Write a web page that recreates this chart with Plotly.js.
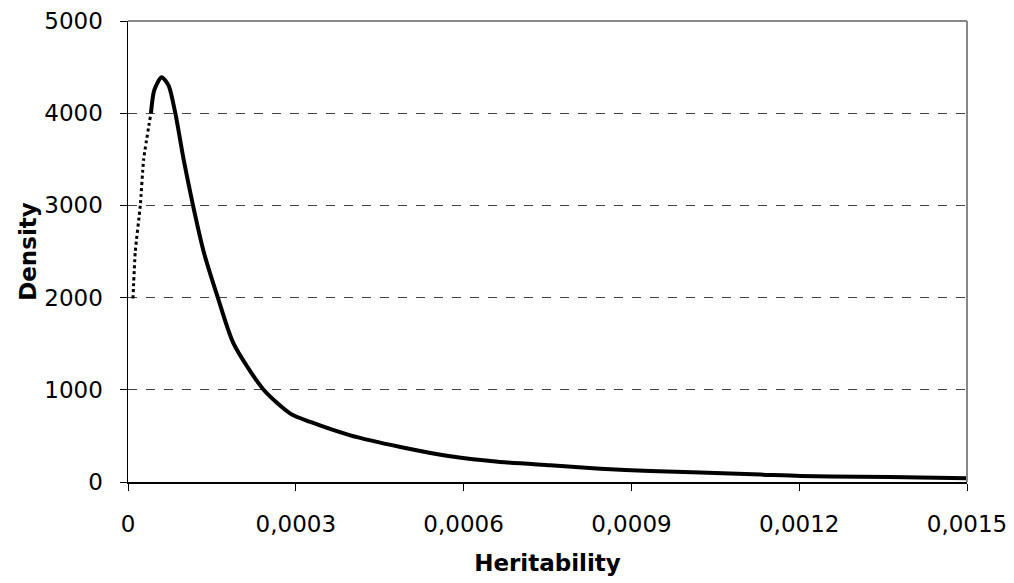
<!DOCTYPE html>
<html><head><meta charset="utf-8">
<script src="https://cdn.plot.ly/plotly-3.0.1.min.js"></script>
<style>html,body{margin:0;padding:0;background:#fff}#chart{width:1014px;height:583px}</style>
</head><body><div id="chart"></div>
<script>
// Rising part (drawn dotted in the reference)
const riseX = [0.0000089, 0.000013, 0.000022, 0.000028, 0.000041];
const riseY = [1990, 2500, 3000, 3500, 4000];
// Peak and falling part (solid)
const fallX = [0.000041, 0.000047, 0.00006, 0.0000726, 0.0000846, 0.0000994, 0.0001162, 0.0001352, 0.0001606, 0.0001888, 0.0002425, 0.0002902, 0.0003261, 0.0003975, 0.000487, 0.0005763, 0.0006657, 0.000755, 0.0008444, 0.0009338, 0.0010233, 0.001131, 0.0012022, 0.001309, 0.0014165, 0.0015];
const fallY = [4000, 4250, 4390, 4300, 4000, 3500, 3000, 2500, 2000, 1500, 1000, 742, 651, 506, 380, 279, 217, 181, 145, 119, 102, 80, 65, 58, 50, 40];
const xTickVals = [0, 0.0003, 0.0006, 0.0009, 0.0012, 0.0015];
const xTickText = ['0', '0,0003', '0,0006', '0,0009', '0,0012', '0,0015'];
const yTickVals = [0, 1000, 2000, 3000, 4000, 5000];

const tickFont = {family: 'DejaVu Sans, sans-serif', size: 23, color: '#000'};
const titleFont = {family: 'DejaVu Sans, sans-serif', size: 23, color: '#000'};
const data = [
  {x: riseX, y: riseY, mode: 'lines', line: {color: '#000', width: 3, dash: 'dot', shape: 'spline', smoothing: 0.5}, hoverinfo: 'x+y'},
  {x: fallX, y: fallY, mode: 'lines', line: {color: '#000', width: 4, shape: 'spline', smoothing: 0.7}, hoverinfo: 'x+y'}
];
const layout = {
  width: 1014, height: 583,
  margin: {l: 128, r: 47, t: 21, b: 101},
  paper_bgcolor: '#fff', plot_bgcolor: '#fff',
  showlegend: false,
  font: tickFont,
  xaxis: {
    range: [0, 0.0015], tickvals: xTickVals, ticktext: xTickText,
    showgrid: false, zeroline: false,
    showline: true, linecolor: '#000', linewidth: 1.5,
    ticks: 'outside', ticklen: 7, tickcolor: '#000', tickwidth: 1,
    ticklabelstandoff: 14,
    tickfont: tickFont,
    title: {text: '<b>Heritability</b>', font: titleFont, standoff: 19}
  },
  yaxis: {
    range: [0, 5000], tickvals: yTickVals,
    showgrid: true, gridcolor: '#444', griddash: 'dash', gridwidth: 1,
    zeroline: false,
    showline: true, linecolor: '#000', linewidth: 1.5,
    ticks: 'outside', ticklen: 7, tickcolor: '#000', tickwidth: 1,
    ticklabelstandoff: 12,
    tickfont: tickFont,
    title: {text: '<b>Density</b>', font: titleFont, standoff: 1}
  },
  shapes: [
    {type: 'line', xref: 'paper', yref: 'paper', x0: 0, x1: 1, y0: 1, y1: 1, line: {color: '#888', width: 2}},
    {type: 'line', xref: 'paper', yref: 'paper', x0: 1, x1: 1, y0: 0, y1: 1, line: {color: '#888', width: 2}}
  ]
};
Plotly.newPlot('chart', data, layout, {displayModeBar: false, staticPlot: true});
</script></body></html>
